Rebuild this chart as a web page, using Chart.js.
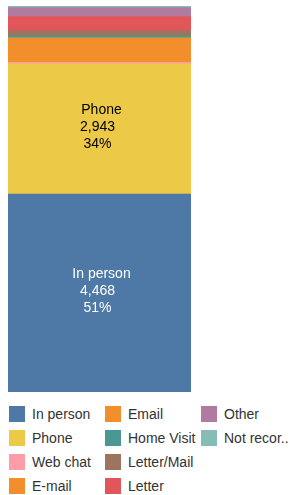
<!DOCTYPE html>
<html>
<head>
<meta charset="utf-8">
<script src="https://cdn.jsdelivr.net/npm/chart.js@4"></script>
<style>
body { margin: 0; background: #fff; width: 292px; height: 495px; overflow: hidden; font-family: "Liberation Sans", Arial, sans-serif; }
#wrap { position: absolute; left: 8px; top: 6px; width: 183px; height: 386px; }
#legend { position: absolute; left: 9px; top: 406px; display: grid; grid-auto-flow: column;
  grid-template-rows: repeat(4, 24px); grid-template-columns: 96px 96px 96px; }
.item { display: flex; align-items: center; height: 16px; font-size: 14px; color: #333; white-space: nowrap; }
.sw { width: 16px; height: 16px; margin-right: 7px; flex: none; }
</style>
</head>
<body>
<div id="wrap"><canvas id="myChart" width="183" height="386"></canvas></div>
<div id="legend"></div>
<script>
// stacked from the bottom up
var categories = ['In person', 'Phone', 'Web chat', 'E-mail', 'Email', 'Home Visit', 'Letter/Mail', 'Letter', 'Other', 'Not recorded'];
var values = [4468, 2943, 30, 480, 76, 45, 113, 322, 203, 38];
var colors = ['#4E79A7', '#EDC948', '#FF9DA7', '#F28E2B', '#F28E2B', '#499894', '#9C755F', '#E15759', '#B07AA1', '#86BCB6'];
var labelColors = ['#fff', '#000'];

var total = values.reduce(function(a, b){ return a + b; }, 0);

var datasets = categories.map(function(c, i){
	return { label: c, data: [values[i]], backgroundColor: colors[i], borderWidth: 0, barPercentage: 1, categoryPercentage: 1 };
});

// name / value / percent inside the big segments
var segLabels = {
	id: 'segLabels',
	afterDatasetsDraw: function(chart){
		var ctx = chart.ctx;
		ctx.save();
		ctx.font = '14px "Liberation Sans", Arial, sans-serif';
		ctx.textAlign = 'center';
		ctx.textBaseline = 'middle';
		chart.data.datasets.forEach(function(ds, i){
			var el = chart.getDatasetMeta(i).data[0];
			var h = Math.abs(el.base - el.y);
			if (h < 50) return;
			var cy = (el.y + el.base) / 2 - 2;
			var v = ds.data[0];
			ctx.fillStyle = labelColors[i] || '#000';
			ctx.fillText(ds.label, el.x + 2, cy - 17);
			ctx.fillText(v.toLocaleString('en-US'), el.x - 2, cy);
			ctx.fillText(Math.round(v / total * 100) + '%', el.x - 2, cy + 17);
		});
		ctx.restore();
	}
};

var ctx = document.getElementById('myChart').getContext('2d');
var chart = new Chart(ctx, {
	type: 'bar',
	data: { labels: ['All'], datasets: datasets },
	options: {
		responsive: false,
		animation: false,
		layout: { padding: 0 },
		plugins: { legend: { display: false }, tooltip: { enabled: false } },
		scales: {
			x: { stacked: true, display: false },
			y: { stacked: true, display: false, min: 0, max: total }
		}
	},
	plugins: [segLabels]
});

var legend = document.getElementById('legend');
categories.forEach(function(c, i){
	var text = c === 'Not recorded' ? 'Not recor..' : c;
	var item = document.createElement('div');
	item.className = 'item';
	item.innerHTML = '<span class="sw" style="background:' + colors[i] + '"></span><span>' + text + '</span>';
	legend.appendChild(item);
});
</script>
</body>
</html>
